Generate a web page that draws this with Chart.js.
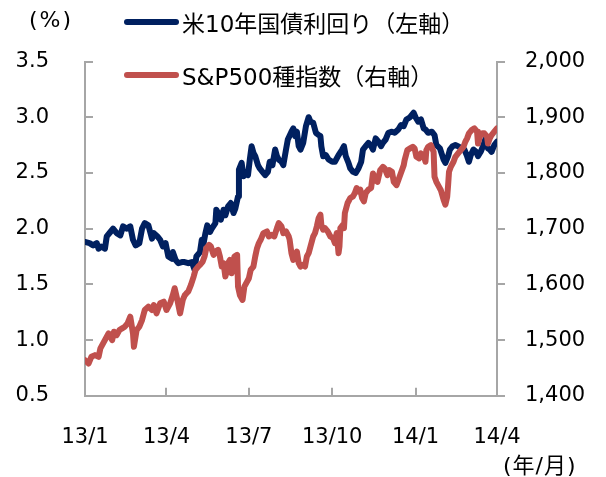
<!DOCTYPE html>
<html>
<head>
<meta charset="utf-8">
<script src="https://cdn.jsdelivr.net/npm/chart.js@4/dist/chart.umd.min.js"></script>
<style>
  body { margin: 0; background: #fff; }
  #wrap { position: relative; width: 606px; height: 477px; font-family: 'DejaVu Sans', 'Noto Sans CJK JP', sans-serif; color: #000; }
  .lbl { position: absolute; font-size: 22px; line-height: 1; white-space: nowrap; }
  .leg { position: absolute; left: 124px; height: 24px; display: flex; align-items: center; font-size: 23px; white-space: nowrap; }
  .leg span.swatch { display: inline-block; width: 55px; height: 6px; border-radius: 3px; margin-right: 3px; }
</style>
</head>
<body>
<div id="wrap">
  <canvas id="chart"></canvas>
  <div class="lbl" style="left:29px; top:9px; letter-spacing:2px;">(%)</div>
  <div class="leg" style="top:10px;"><span class="swatch" style="background:#002060"></span>米10年国債利回り（左軸）</div>
  <div class="leg" style="top:63px;"><span class="swatch" style="background:#C0504D"></span>S&amp;P500種指数（右軸）</div>
  <div class="lbl" style="left:503px; top:455px; letter-spacing:1px;">(年/月)</div>
</div>
<script>
// days counted from 2013/1/1
const tickDays = [0, 90, 181, 273, 365, 455];
const tickLabels = ['13/1', '13/4', '13/7', '13/10', '14/1', '14/4'];

// US 10y treasury yield (%)
const yieldDays = [0, 5, 9, 13, 15, 18, 22, 24, 28, 31, 35, 39, 42, 46, 50, 53, 56, 60, 63, 66, 70, 74, 76, 80, 83, 86, 89,
  92, 96, 97, 100, 103, 107, 110, 114, 118, 121, 123, 127, 129, 131, 133, 135, 138, 140, 144, 145, 147, 150, 153, 155,
  158, 161, 164, 166, 169, 170, 173, 175, 177, 180, 182, 184, 186, 188, 191, 193, 196, 199, 202, 204, 207, 210, 212,
  214, 217, 219, 222, 224, 228, 230, 232, 234, 236, 238, 241, 244, 247, 249, 252, 255, 258, 260, 261, 263, 266, 269,
  273, 276, 280, 284, 286, 288, 291, 293, 296, 299, 302, 305, 307, 310, 313, 316, 318, 321, 324, 327, 329, 332, 335,
  339, 342, 346, 349, 352, 355, 359, 363, 365, 368, 371, 374, 376, 379, 383, 386, 388, 392, 396, 398, 401, 403, 406,
  409, 412, 416, 419, 422, 424, 426, 429, 432, 434, 437, 440, 442, 445, 447, 449, 452, 455];
const yieldValues = [1.88, 1.87, 1.85, 1.87, 1.82, 1.84, 1.82, 1.93, 1.97, 2.00, 1.96, 1.94, 2.02, 2.00, 2.02, 1.90, 1.85,
  1.87, 2.00, 2.05, 2.03, 1.91, 1.96, 1.93, 1.90, 1.84, 1.87,
  1.75, 1.73, 1.79, 1.72, 1.69, 1.70, 1.70, 1.69, 1.70, 1.63, 1.75, 1.79, 1.90, 1.87, 1.96, 2.03, 1.97, 2.00, 2.05, 2.17,
  2.14, 2.08, 2.17, 2.12,
  2.20, 2.23, 2.14, 2.18, 2.29, 2.53, 2.59, 2.47, 2.51, 2.48, 2.62, 2.74, 2.68, 2.65, 2.57, 2.54, 2.51, 2.48, 2.51, 2.60,
  2.57, 2.71, 2.65,
  2.62, 2.60, 2.57, 2.71, 2.80, 2.87, 2.90, 2.83, 2.87, 2.74, 2.71, 2.77, 2.92, 3.00, 2.96, 2.95, 2.86, 2.84, 2.83, 2.74,
  2.65, 2.66, 2.62,
  2.60, 2.60, 2.66, 2.71, 2.74, 2.65, 2.59, 2.54, 2.51, 2.50, 2.54, 2.60, 2.71, 2.74, 2.77, 2.74, 2.71, 2.81, 2.78, 2.74,
  2.77, 2.80, 2.86,
  2.87, 2.86, 2.89, 2.93, 2.92, 2.98, 3.00, 3.04, 3.00, 2.96, 2.98, 2.90, 2.89, 2.86, 2.87, 2.84, 2.75, 2.72, 2.62, 2.59,
  2.65, 2.71, 2.74,
  2.75, 2.74, 2.72, 2.71, 2.65, 2.60, 2.66, 2.71, 2.69, 2.65, 2.69, 2.75, 2.80, 2.72, 2.71, 2.69, 2.75, 2.78];

// S&P500 index
const spxDays = [0, 4, 7, 11, 15, 17, 20, 23, 26, 30, 32, 35, 38, 41, 44, 47, 50, 53, 54, 57, 60, 63, 66, 70, 74, 76, 79,
  83, 87, 90, 94, 97, 99, 102, 105, 108, 110, 112, 114, 117, 120, 122, 125, 127, 130, 132, 134, 137, 139, 142, 144, 147,
  149, 151, 153, 155, 157, 158, 160, 162, 165, 168, 169, 171, 174, 176, 179, 181, 183, 186, 188, 190, 192, 194, 197,
  201, 203, 206, 209, 212, 214, 217, 219, 222, 225, 226, 228, 230, 232, 234, 236, 238, 240, 243, 245, 247, 249, 252,
  254, 256, 258, 260, 261, 263, 265, 268, 271, 274, 276, 278, 280, 281, 282, 285, 286, 287, 290, 293, 296, 298, 300,
  302, 304, 306, 308, 310, 313, 316, 318, 321, 323, 326, 329, 331, 334, 336, 339, 341, 344, 346, 348, 350, 352, 353,
  356, 359, 362, 364, 366, 369, 371, 374, 376, 377, 379, 382, 385, 386, 388, 391, 393, 396, 398, 400, 401, 402, 404,
  407, 409, 412, 415, 418, 420, 422, 424, 427, 430, 433, 434, 436, 439, 441, 444, 445, 447, 449, 452, 455];
const spxValues = [1464, 1458, 1470, 1473, 1470, 1485, 1494, 1503, 1512, 1500, 1515, 1509, 1518, 1521, 1524, 1530, 1542,
  1512, 1488, 1518, 1524, 1536, 1554, 1560, 1554, 1563, 1548,
  1566, 1569, 1554, 1566, 1581, 1593, 1572, 1548, 1572, 1580, 1584, 1587, 1599, 1614, 1626, 1632, 1635, 1641, 1650, 1665,
  1671, 1668, 1653, 1659, 1662,
  1650, 1632, 1638, 1614, 1626, 1638, 1644, 1620, 1650, 1653, 1596, 1581, 1572, 1596, 1605, 1611, 1626, 1632, 1650,
  1665, 1674, 1680, 1692,
  1695, 1686, 1689, 1686, 1701, 1710, 1704, 1692, 1695, 1686, 1680, 1656, 1644, 1650, 1659, 1638, 1632, 1635, 1632, 1650,
  1656, 1668, 1686,
  1692, 1704, 1719, 1725, 1707, 1698, 1701, 1695, 1686, 1683, 1674, 1692, 1656, 1668, 1701, 1707, 1701, 1728, 1746, 1755,
  1758, 1764, 1773,
  1767, 1770, 1755, 1749, 1764, 1770, 1773, 1799, 1787, 1784, 1805, 1811, 1808, 1796, 1805, 1802, 1784, 1778, 1787,
  1796, 1805, 1814, 1823,
  1841, 1844, 1847, 1844, 1829, 1826, 1835, 1832, 1820, 1841, 1847, 1850, 1838, 1793, 1784, 1775, 1769, 1752, 1743,
  1757, 1778, 1802, 1811,
  1820, 1829, 1835, 1841, 1847, 1856, 1862, 1871, 1877, 1880, 1874, 1853, 1865, 1871, 1871, 1865, 1853, 1862, 1868,
  1874, 1880, 1890];

const axisGrey = '#a6a6a6';
const tickFont = { family: "'DejaVu Sans', sans-serif", size: 21 };

function toPoints(xs, ys) {
  return xs.map((x, i) => ({ x: x, y: ys[i] }));
}

new Chart(document.getElementById('chart'), {
  type: 'line',
  data: {
    datasets: [{
      label: '米10年国債利回り（左軸）',
      data: toPoints(yieldDays, yieldValues),
      yAxisID: 'y',
      borderColor: '#002060',
      borderWidth: 6,
      pointRadius: 0,
      borderCapStyle: 'round',
      borderJoinStyle: 'round',
      order: 1
    }, {
      label: 'S&P500種指数（右軸）',
      data: toPoints(spxDays, spxValues),
      yAxisID: 'y1',
      borderColor: '#C0504D',
      borderWidth: 6,
      pointRadius: 0,
      borderCapStyle: 'round',
      borderJoinStyle: 'round',
      order: 0
    }]
  },
  options: {
    responsive: true,
    maintainAspectRatio: false,
    animation: false,
    layout: { padding: { top: 61.5, left: 0, right: 0, bottom: 0 } },
    plugins: { legend: { display: false }, tooltip: { enabled: false } },
    scales: {
      x: {
        type: 'linear', min: 0, max: 455,
        afterBuildTicks: scale => { scale.ticks = tickDays.map(v => ({ value: v })); },
        afterFit: scale => { scale.height = 81.2; },
        ticks: {
          autoSkip: false, maxRotation: 0, padding: 37, color: '#000', font: tickFont,
          callback: value => tickLabels[tickDays.indexOf(value)]
        },
        grid: { drawOnChartArea: false, tickLength: -8, color: axisGrey, lineWidth: 2 },
        border: { color: axisGrey, width: 2 }
      },
      y: {
        position: 'left', min: 0.5, max: 3.5,
        afterFit: scale => { scale.width = 85; },
        ticks: { stepSize: 0.5, padding: 44, color: '#000', font: tickFont, callback: v => v.toFixed(1) },
        grid: { drawOnChartArea: false, tickLength: -8, color: axisGrey, lineWidth: 2 },
        border: { color: axisGrey, width: 2 }
      },
      y1: {
        position: 'right', min: 1400, max: 2000,
        afterFit: scale => { scale.width = 109; },
        ticks: { stepSize: 100, padding: 20, color: '#000', font: tickFont, callback: v => v.toLocaleString('en-US') },
        grid: { drawOnChartArea: false, tickLength: 8, color: axisGrey, lineWidth: 2 },
        border: { color: axisGrey, width: 2 }
      }
    }
  }
});
</script>
</body>
</html>
